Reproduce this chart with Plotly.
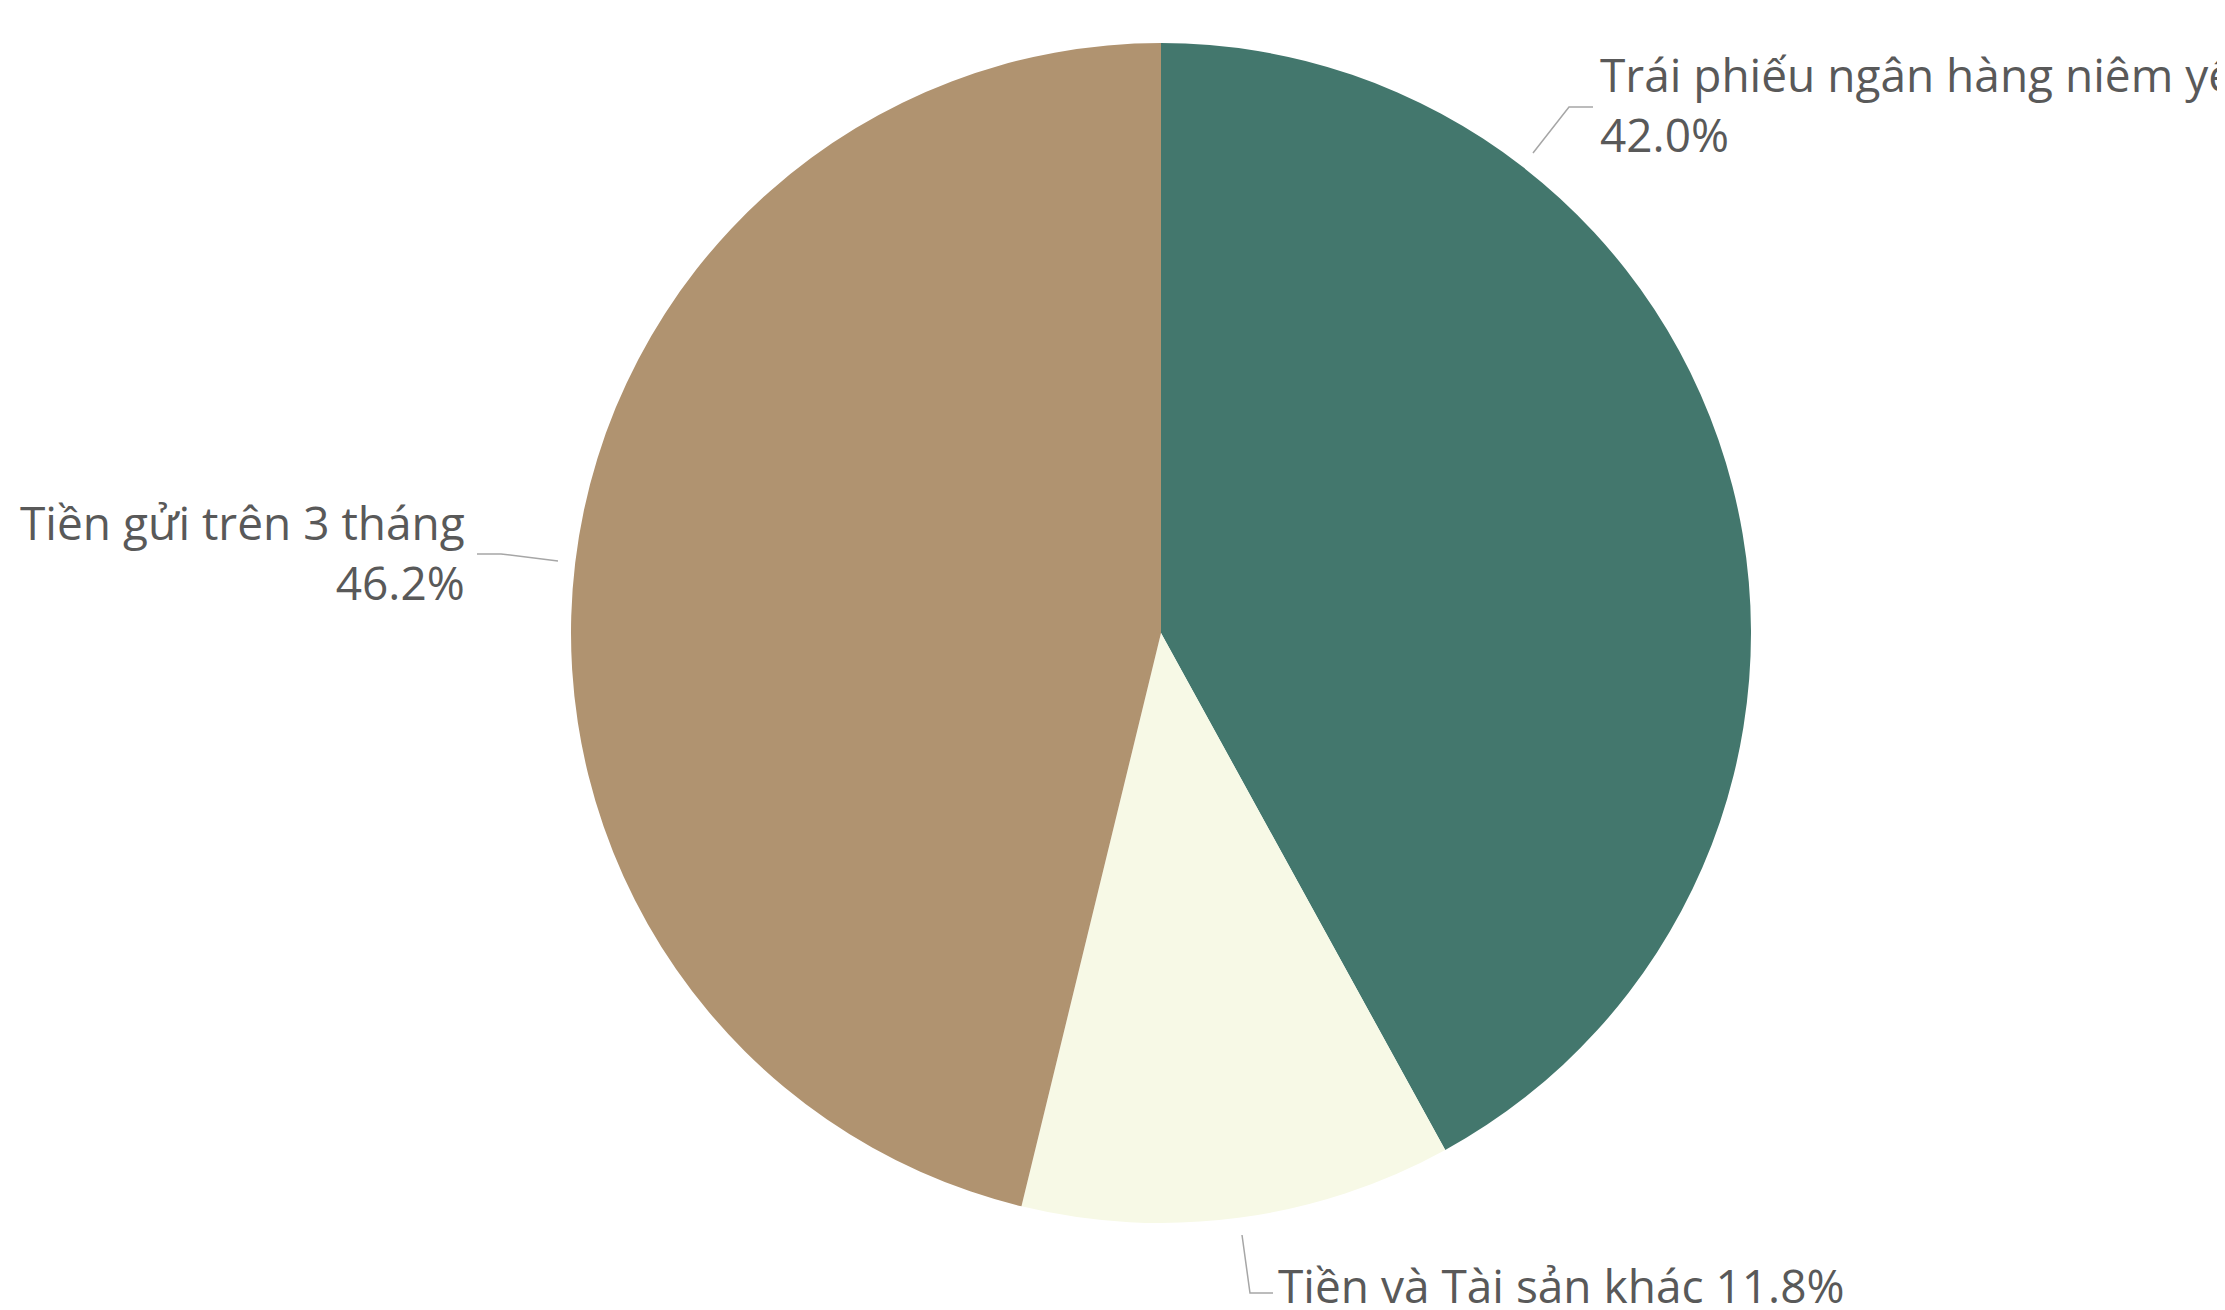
import plotly.graph_objects as go

# ---- data ----
labels = ["Trái phiếu ngân hàng niêm yết", "Tiền và Tài sản khác", "Tiền gửi trên 3 tháng"]
values = [42.0, 11.8, 46.2]
colors = ["#43776D", "#F7F9E6", "#B09370"]

W, H = 2225, 1310


def px(x):
    return x / W


def py(y):
    return 1 - y / H


fig = go.Figure(
    go.Pie(
        labels=labels,
        values=values,
        sort=False,
        direction="clockwise",
        rotation=0,
        marker=dict(colors=colors, line=dict(width=0)),
        textinfo="none",
        hoverinfo="label+percent",
        domain=dict(x=[px(563), px(1743)], y=[py(1217), py(33)]),
        showlegend=False,
    )
)

font = dict(family="Open Sans", size=46, color="#595959")
pct = [f"{v:.1f}%" for v in values]

annotations = [
    dict(text=f"{labels[0]}<br>{pct[0]}", x=px(1590), y=py(96), xanchor="left", yanchor="middle", align="left"),
    dict(text=f"{labels[1]} {pct[1]}", x=px(1268), y=py(1277), xanchor="left", yanchor="middle", align="left"),
    dict(text=f"{labels[2]}<br>{pct[2]}", x=px(459), y=py(544), xanchor="right", yanchor="middle", align="right"),
]
for a in annotations:
    a.update(xref="paper", yref="paper", showarrow=False, font=font)

leaders = [
    [(1525, 145), (1561, 99), (1585, 99)],
    [(1234, 1227), (1242, 1285), (1265, 1285)],
    [(550, 553), (493, 546), (469, 546)],
]
shapes = []
for pts in leaders:
    path = "M " + " L ".join(f"{px(x):.5f},{py(y):.5f}" for x, y in pts)
    shapes.append(dict(type="path", path=path, xref="paper", yref="paper",
                       line=dict(color="#A6A6A6", width=1.5)))

fig.update_layout(
    width=W,
    height=H,
    margin=dict(l=0, r=0, t=0, b=0),
    paper_bgcolor="white",
    plot_bgcolor="white",
    annotations=annotations,
    shapes=shapes,
)

fig.write_html("out.html")
